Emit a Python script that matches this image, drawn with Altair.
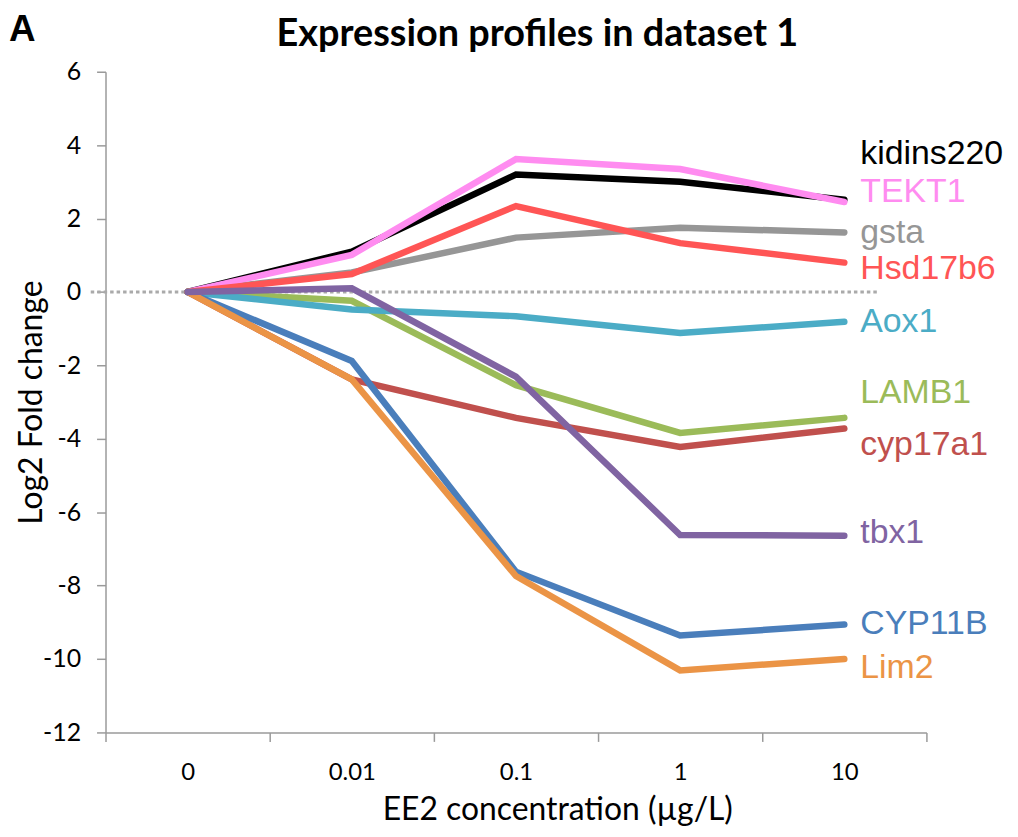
import altair as alt
import pandas as pd

# ---- data ----
concentrations = ["0", "0.01", "0.1", "1", "10"]
genes = ["gsta", "kidins220", "TEKT1", "Hsd17b6", "LAMB1", "Aox1",
         "cyp17a1", "CYP11B", "Lim2", "tbx1"]          # draw order
colors = ["#969696", "#000000", "#FF8CF0", "#FF5555", "#9BBB59", "#4BACC6",
          "#C0504D", "#4A7EBB", "#EB9446", "#8064A2"]
values = {
    "kidins220": [0, 1.10, 3.20, 3.00, 2.51],
    "TEKT1":     [0, 1.01, 3.62, 3.35, 2.45],
    "gsta":      [0, 0.53, 1.48, 1.75, 1.62],
    "Hsd17b6":   [0, 0.49, 2.34, 1.33, 0.80],
    "Aox1":      [0, -0.48, -0.66, -1.12, -0.81],
    "LAMB1":     [0, -0.24, -2.54, -3.84, -3.43],
    "cyp17a1":   [0, -2.38, -3.43, -4.22, -3.72],
    "tbx1":      [0, 0.10, -2.31, -6.62, -6.64],
    "CYP11B":    [0, -1.88, -7.62, -9.36, -9.06],
    "Lim2":      [0, -2.38, -7.74, -10.31, -10.0],
}
# y position (data units) of the text label baselines on the right
label_y = {
    "kidins220": 3.49, "TEKT1": 2.44, "gsta": 1.34, "Hsd17b6": 0.34,
    "Aox1": -1.09, "LAMB1": -3.03, "cyp17a1": -4.44, "tbx1": -6.84,
    "CYP11B": -9.32, "Lim2": -10.51,
}
zero_line_span = [-0.59, 4.2]
y_ticks = list(range(-12, 7, 2))
chart_title = "Expression profiles in dataset 1"
panel_letter = "A"

rows = []
for g in genes:
    for i, v in enumerate(values[g]):
        rows.append({"gene": g, "xi": i, "value": v})
df = pd.DataFrame(rows)
labels_df = pd.DataFrame({"gene": genes, "xi": [len(concentrations) - 1] * len(genes),
                          "ly": [label_y[g] for g in genes]})
zero_df = pd.DataFrame({"x1": [zero_line_span[0]], "x2": [zero_line_span[1]], "y": [0]})
panel_df = pd.DataFrame({"t": [panel_letter]})
title_df = pd.DataFrame({"t": [chart_title]})

n = len(concentrations)
x_ticks = [i * 0.5 - 0.5 for i in range(2 * n + 1)]
cat_js = "[" + ",".join("'" + c + "'" for c in concentrations) + "]"

x_scale = alt.Scale(domain=[-0.5, n - 0.5], nice=False, zero=False)
y_scale = alt.Scale(domain=[-12, 6], nice=False, zero=False)
color_scale = alt.Scale(domain=genes, range=colors)

AXIS_GRAY = "#9a9a9a"
x_axis = alt.Axis(
    values=x_ticks,
    labelExpr=f"datum.value % 1 == 0 ? {cat_js}[datum.value] : ''",
    tickOpacity={"condition": {"test": "datum.value % 1 == 0", "value": 0}, "value": 1},
    grid=False, domainColor=AXIS_GRAY, domainWidth=1.5, tickColor=AXIS_GRAY,
    tickWidth=1.5, tickSize=9, labelFont="Lato", labelFontSize=24, labelColor="#000000",
    labelBaseline="alphabetic", labelPadding=38, labelOverlap=False, labelFlush=False,
    title="EE2 concentration (µg/L)", titleFont="Lato", titleFontSize=32,
    titleFontWeight="normal", titleColor="#000000", titleX=454, titleY=88,
    titleBaseline="alphabetic",
)
y_axis = alt.Axis(
    values=y_ticks, grid=False, domainColor=AXIS_GRAY, domainWidth=1.5,
    labelExpr="toString(datum.value)",
    tickColor=AXIS_GRAY, tickWidth=1.5, tickSize=9, labelFont="Lato",
    labelFontSize=25, labelColor="#000000", labelPadding=16,
    title="Log2 Fold change", titleFont="Lato", titleFontSize=32,
    titleFontWeight="normal", titleColor="#000000", titleX=-64, titleY=332,
    titleBaseline="alphabetic", titleAngle=270,
)

base = alt.Chart(df)
zero_rule = alt.Chart(zero_df).mark_rule(
    color="#aaaaaa", strokeWidth=3, strokeDash=[3.5, 3]
).encode(
    x=alt.X("x1:Q", scale=x_scale, axis=x_axis),
    x2="x2:Q",
    y=alt.Y("y:Q", scale=y_scale, axis=y_axis),
)

line_layers = []
for g in genes:
    line_layers.append(
        base.transform_filter(alt.datum.gene == g).mark_line(
            strokeWidth=6.5, strokeCap="round", strokeJoin="miter"
        ).encode(
            x=alt.X("xi:Q", scale=x_scale),
            y=alt.Y("value:Q", scale=y_scale),
            color=alt.Color("gene:N", scale=color_scale, legend=None),
        )
    )

labels = alt.Chart(labels_df).mark_text(
    align="left", baseline="alphabetic", dx=16, font="Liberation Sans", fontSize=34
).encode(
    x=alt.X("xi:Q", scale=x_scale),
    y=alt.Y("ly:Q", scale=y_scale),
    text="gene:N",
    color=alt.Color("gene:N", scale=color_scale, legend=None),
)

panel = alt.Chart(panel_df).mark_text(
    align="left", baseline="alphabetic", font="Liberation Sans", fontSize=37,
    fontWeight="bold", color="#000000"
).encode(x=alt.value(-97), y=alt.value(-31), text="t:N")

title = alt.Chart(title_df).mark_text(
    align="center", baseline="alphabetic", font="Lato", fontSize=38,
    fontWeight="bold", color="#000000"
).encode(x=alt.value(434), y=alt.value(-26), text="t:N")

chart = alt.layer(zero_rule, *line_layers, labels, panel, title).properties(
    width=825, height=664,
    autosize=alt.AutoSizeParams(type="none"),
    padding={"left": 98, "top": 62, "right": 84, "bottom": 95},
).configure_view(stroke=None)

chart.save("out.html", embed_options={"renderer": "svg", "actions": False})
